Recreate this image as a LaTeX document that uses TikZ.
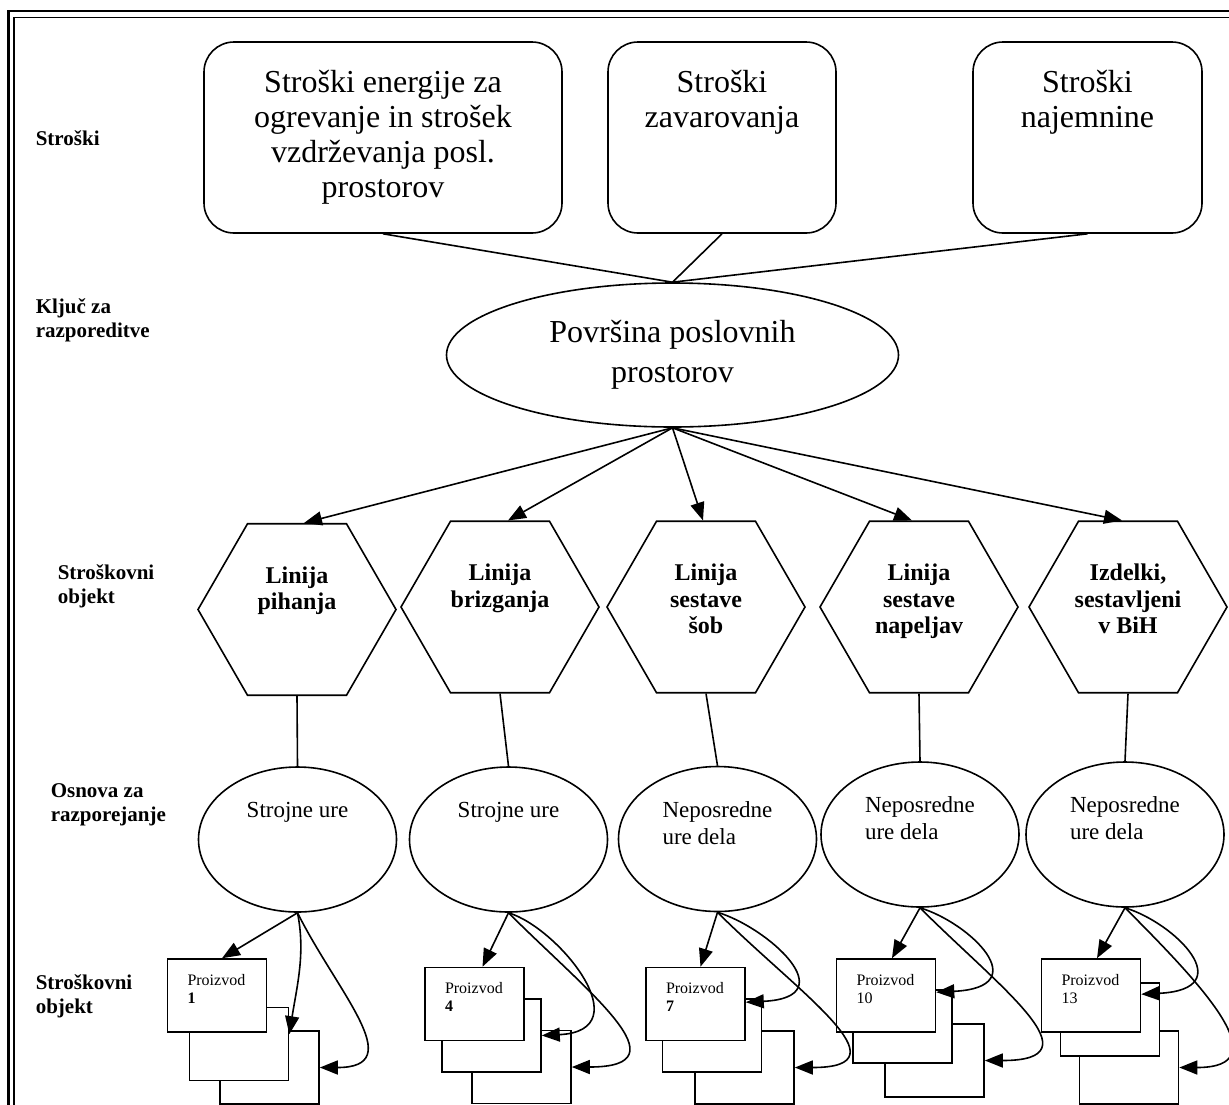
\documentclass[tikz,border=0pt]{standalone}
\usepackage{fontspec}
\setmainfont{Liberation Serif}
\usetikzlibrary{arrows.meta,shapes.geometric}

\begin{document}
\begin{tikzpicture}[x=1pt,y=-1pt,line width=1.6pt,>={Triangle[length=18pt,width=14pt]}]
 \tikzstyle{strosek}=[draw,rounded corners=30pt,minimum height=191pt,inner sep=0pt]
 \tikzstyle{strosektext}=[anchor=north,yshift=-28pt,inner sep=0pt,align=center,font=\fontsize{32}{35}\selectfont]
 \tikzstyle{kljuc}=[draw,ellipse,minimum width=452pt,minimum height=144pt,inner sep=0pt,align=center,font=\fontsize{32}{40}\selectfont]
 \tikzstyle{objekt}=[draw,regular polygon,regular polygon sides=6,minimum size=198pt,inner sep=0pt]
 \tikzstyle{objekttext}=[anchor=north,yshift=-43pt,inner sep=0pt,align=center,font=\bfseries\fontsize{24}{26.5}\selectfont]
 \tikzstyle{osnova}=[draw,ellipse,minimum width=198pt,minimum height=145pt,inner sep=0pt]
 \tikzstyle{osnovatext}=[anchor=north,yshift=-35pt,inner sep=0pt,align=left,font=\fontsize{23}{27}\selectfont]
 \tikzstyle{proizvod}=[draw,fill=white,minimum width=99pt,minimum height=73pt,inner sep=0pt]
 \tikzstyle{proizvodtext}=[anchor=north west,xshift=20pt,yshift=-15pt,inner sep=0pt,align=left,font=\fontsize{16}{18}\selectfont]
 \tikzstyle{vrstica}=[anchor=north west,inner sep=0pt,align=left,font=\bfseries\fontsize{21}{24}\selectfont]

   \useasboundingbox (0,0) rectangle (1229,1104);
   \draw[line width=2.2pt] (8.5,11) rectangle (1250,1130);
   \draw[line width=1.2pt] (14,17.5) rectangle (1245,1125);

   % vrstice
   \node[vrstica] (r1) at (35,130) {Stroški};
   \node[vrstica] (r2) at (35,298) {Ključ za\\razporeditve};
   \node[vrstica] (r3) at (57,564) {Stroškovni\\objekt};
   \node[vrstica] (r4) at (50,783) {Osnova za\\razporejanje};
   \node[vrstica] (r5) at (35,974) {Stroškovni\\objekt};

   % stroski
   \node[strosek,minimum width=358pt,label={[strosektext]north:{Stroški energije za\\ogrevanje in strošek\\vzdrževanja posl.\\prostorov}}] (c1) at (383,137.5) {};
   \node[strosek,minimum width=228pt,label={[strosektext]north:{Stroški\\zavarovanja}}] (c2) at (722,137.5) {};
   \node[strosek,minimum width=229pt,label={[strosektext]north:{Stroški\\najemnine}}] (c3) at (1087.5,137.5) {};

   \node[kljuc] (pov) at (672.5,355) {Površina poslovnih\\prostorov};

   % stroskovni objekti
   \node[objekt,label={[objekttext]north:{Linija\\pihanja}}] (h1) at (297,609.5) {};
   \node[objekt,label={[objekttext]north:{Linija\\brizganja}}] (h2) at (500,607) {};
   \node[objekt,label={[objekttext]north:{Linija\\sestave\\šob}}] (h3) at (706,607) {};
   \node[objekt,label={[objekttext]north:{Linija\\sestave\\napeljav}}] (h4) at (919,607) {};
   \node[objekt,label={[objekttext]north:{Izdelki,\\sestavljeni\\v BiH}}] (h5) at (1128,607) {};

   \node[osnova,label={[osnovatext]north:{Strojne ure}}] (o1) at (297.5,839.5) {};
   \node[osnova,label={[osnovatext]north:{Strojne ure}}] (o2) at (508.5,839.5) {};
   \node[osnova,label={[osnovatext]north:{Neposredne\\ure dela}}] (o3) at (717.5,839) {};
   \node[osnova,label={[osnovatext]north:{Neposredne\\ure dela}}] (o4) at (920,834.5) {};
   \node[osnova,label={[osnovatext]north:{Neposredne\\ure dela}}] (o5) at (1125,834.5) {};

   % proizvodi
   \node[proizvod] (p1c) at (269.5,1067.5) {};
   \node[proizvod] (p1b) at (239,1044) {};
   \node[proizvod,label={[proizvodtext]north west:{Proizvod\\\textbf{1}}}] (p1a) at (217,995.5) {};
   \node[proizvod] (p2c) at (521.5,1067) {};
   \node[proizvod] (p2b) at (491.5,1035.5) {};
   \node[proizvod,label={[proizvodtext]north west:{Proizvod\\\textbf{4}}}] (p2a) at (474.5,1004) {};
   \node[proizvod] (p3c) at (744.5,1067.5) {};
   \node[proizvod] (p3b) at (712,1035.5) {};
   \node[proizvod,label={[proizvodtext]north west:{Proizvod\\\textbf{7}}}] (p3a) at (695.5,1004) {};
   \node[proizvod] (p4c) at (934.5,1060.5) {};
   \node[proizvod] (p4b) at (902.5,1026.5) {};
   \node[proizvod,label={[proizvodtext]north west:{Proizvod\\10}}] (p4a) at (886,995.5) {};
   \node[proizvod] (p5c) at (1129,1067.5) {};
   \node[proizvod] (p5b) at (1110,1019.5) {};
   \node[proizvod,label={[proizvodtext]north west:{Proizvod\\13}}] (p5a) at (1091,995.5) {};

   \path
   (c1.south) edge (pov.north)
   (c2.south) edge (pov.north)
   (c3.south) edge (pov.north)
   (h1.south) edge (o1.north)
   (h2.south) edge (o2.north)
   (h3.south) edge (o3.north)
   (h4.south) edge (o4.north)
   (h5.south) edge (o5.north);

   \path[->]
   (pov.south) edge ([xshift=7pt]h1.north)
   (pov.south) edge ([xshift=8pt]h2.north)
   (pov.south) edge ([xshift=-3pt]h3.north)
   (pov.south) edge ([xshift=-7pt]h4.north)
   (pov.south) edge ([xshift=-6pt]h5.north)
   (o1.south) edge ([xshift=5pt]p1a.north)
   (o2.south) edge ([xshift=8pt]p2a.north)
   (o3.south) edge ([xshift=5pt]p3a.north)
   (o4.south) edge ([xshift=6pt]p4a.north)
   (o5.south) edge ([xshift=6pt]p5a.north);

   \draw[->] (o1.south) .. controls +(8,40) and +(8,-50) .. ([yshift=-4pt]p1c.north -| p1b.east);
   \draw[->] (o1.south) .. controls +(40,80) and +(90,0) .. (p1c.east);
   \draw[->] (o2.south) .. controls +(50,15) and +(100,-5) .. (p2b.east);
   \draw[->] (o2.south) .. controls +(80,80) and +(115,0) .. (p2c.east);
   \draw[->] (o3.south) .. controls +(50,15) and +(100,-5) .. ([yshift=-4pt]p3b.north -| p3a.east);
   \draw[->] (o3.south) .. controls +(80,80) and +(115,0) .. (p3c.east);
   \draw[->] (o4.south) .. controls +(50,15) and +(100,-5) .. ([yshift=-3pt]p4b.north -| p4a.east);
   \draw[->] (o4.south) .. controls +(80,80) and +(115,0) .. (p4c.east);
   \draw[->] (o5.south) .. controls +(50,15) and +(100,-5) .. ([yshift=-12pt]p5b.north -| p5a.east);
   \draw[->] (o5.south) .. controls +(80,80) and +(100,0) .. (p5c.east);

\end{tikzpicture}
\end{document}
